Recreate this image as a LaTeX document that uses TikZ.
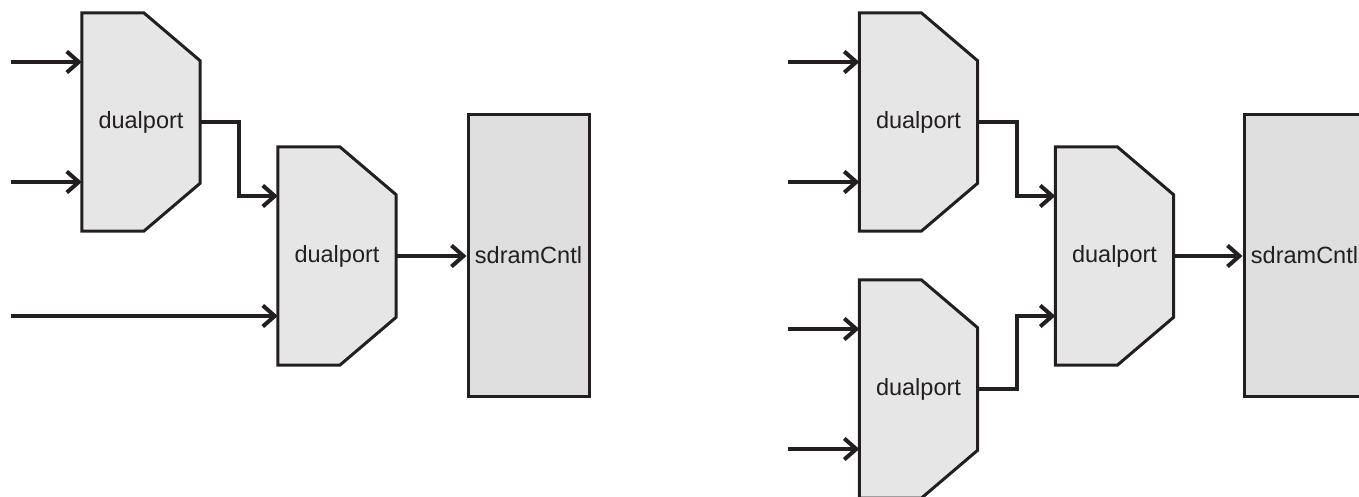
\documentclass[tikz,border=0pt]{standalone}
\usepackage{fontspec}
\setmainfont{Liberation Sans}
\usetikzlibrary{arrows.meta,backgrounds}
\definecolor{ink}{HTML}{231F20}
\definecolor{muxfill}{HTML}{E6E6E6}
\definecolor{ctlfill}{HTML}{DEDEDE}
\tikzset{
  mux/.style={minimum width=118pt,minimum height=218pt,inner sep=0pt,text=ink,
    font=\fontsize{23.5}{27}\selectfont},
  ctl/.style={draw=ink,fill=ctlfill,line width=3pt,minimum width=121pt,minimum height=281pt,
    inner sep=0pt,text=ink,font=\fontsize{23.5}{27}\selectfont},
  muxline/.style={draw=ink,fill=muxfill,line width=3pt,line join=miter},
  conn/.style={draw=ink,line width=4pt,-{Straight Barb[length=12pt,width=21pt]}},
}
\newcommand\muxoutline[1]{%
  \begin{scope}[on background layer]
  \path[muxline] (#1.north west) -- ([xshift=62pt]#1.north west) -- ([yshift=-48pt]#1.north east)
    -- ([yshift=48pt]#1.south east) -- ([xshift=62pt]#1.south west) -- (#1.south west) -- cycle;
  \end{scope}}
\begin{document}
\begin{tikzpicture}[x=1pt,y=-1pt]
\useasboundingbox (0,0) rectangle (1359,497);
% left diagram
\node[mux] (A1) at (141,122) {dualport};
\node[mux] (A2) at (337,256) {dualport};
\node[ctl] (SA) at (528.5,255.5) {sdramCntl};
\muxoutline{A1}
\muxoutline{A2}
\coordinate (a1) at (11,62);
\coordinate (a2) at (11,182);
\coordinate (a3) at (11,316);
\draw[conn] (a1) -- (a1 -| A1.west);
\draw[conn] (a2) -- (a2 -| A1.west);
\draw[conn] (a3) -- (a3 -| A2.west);
\draw[conn] (A1.east) -- ++(39,0) |- ([yshift=60pt]A2.west);
\draw[conn] (A2.east) -- (A2.east -| SA.west);
% right diagram
\node[mux] (B1) at (918.5,122) {dualport};
\node[mux] (B3) at (918.5,389) {dualport};
\node[mux] (B2) at (1114.5,256) {dualport};
\node[ctl] (SB) at (1304.5,255.5) {sdramCntl};
\muxoutline{B1}
\muxoutline{B2}
\muxoutline{B3}
\coordinate (b1) at (788,62);
\coordinate (b2) at (788,182);
\coordinate (b3) at (788,329);
\coordinate (b4) at (788,449);
\draw[conn] (b1) -- (b1 -| B1.west);
\draw[conn] (b2) -- (b2 -| B1.west);
\draw[conn] (b3) -- (b3 -| B3.west);
\draw[conn] (b4) -- (b4 -| B3.west);
\draw[conn] (B1.east) -- ++(39,0) |- ([yshift=60pt]B2.west);
\draw[conn] (B3.east) -- ++(39,0) |- ([yshift=-60pt]B2.west);
\draw[conn] (B2.east) -- (B2.east -| SB.west);
\end{tikzpicture}
\end{document}
